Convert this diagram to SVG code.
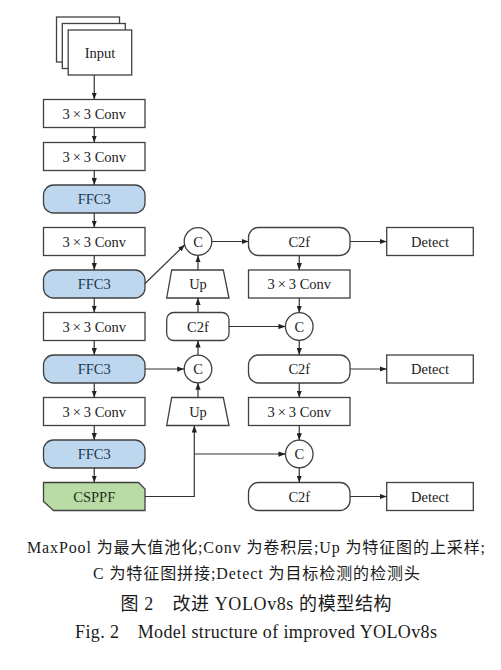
<svg xmlns="http://www.w3.org/2000/svg" width="501" height="670" viewBox="0 0 501 670">
<style>
.b{fill:#fff;stroke:#404040;stroke-width:1.3}
.ffc{fill:#bdd7ee;stroke:#404040;stroke-width:1.3}
.sp{fill:#b9dba5;stroke:#404040;stroke-width:1.3}
.t{font-family:"Liberation Serif","Times New Roman",serif;font-size:14.5px;fill:#222;text-anchor:middle}
.tf{fill:#1f3550}
.ts{fill:#1c2e1c}
.c{fill:none;stroke:#333;stroke-width:1.2}
.cap{font-family:"Liberation Serif","Noto Sans CJK SC",serif;fill:#1a1a1a;text-anchor:middle}
</style>
<defs>
<marker id="a" viewBox="0 0 8 6" refX="8" refY="3" markerWidth="7" markerHeight="5.5" orient="auto" markerUnits="userSpaceOnUse">
<path d="M0,0 L8,3 L0,6 Z" fill="#222"/>
</marker>
</defs>
<rect width="501" height="670" fill="#fff"/>

<g id="input">
<rect class="b" x="56.5" y="17" width="63" height="45"/>
<rect class="b" x="62.3" y="23.5" width="63" height="45"/>
<rect class="b" x="68.2" y="30" width="63.5" height="45"/>
<text class="t" x="100" y="58">Input</text>
</g>

<g id="conv1"><rect class="b" x="43.5" y="99.5" width="101.5" height="28"/>
<text class="t" x="94.25" y="118.5">3<tspan dx="3">×</tspan><tspan dx="3">3 Conv</tspan></text></g>
<g id="conv2"><rect class="b" x="43.5" y="142.5" width="101.5" height="28"/>
<text class="t" x="94.25" y="161.5">3<tspan dx="3">×</tspan><tspan dx="3">3 Conv</tspan></text></g>
<g id="ffc3_1"><rect class="ffc" x="43.5" y="185" width="101.5" height="28" rx="10"/>
<text class="t tf" x="94.25" y="204">FFC3</text></g>
<g id="conv3"><rect class="b" x="43.5" y="227.5" width="101.5" height="28"/>
<text class="t" x="94.25" y="246.5">3<tspan dx="3">×</tspan><tspan dx="3">3 Conv</tspan></text></g>
<g id="ffc3_2"><rect class="ffc" x="43.5" y="270" width="101.5" height="28" rx="10"/>
<text class="t tf" x="94.25" y="289">FFC3</text></g>
<g id="conv4"><rect class="b" x="43.5" y="312.5" width="101.5" height="28"/>
<text class="t" x="94.25" y="331.5">3<tspan dx="3">×</tspan><tspan dx="3">3 Conv</tspan></text></g>
<g id="ffc3_3"><rect class="ffc" x="43.5" y="355" width="101.5" height="28" rx="10"/>
<text class="t tf" x="94.25" y="374">FFC3</text></g>
<g id="conv5"><rect class="b" x="43.5" y="397.5" width="101.5" height="28"/>
<text class="t" x="94.25" y="416.5">3<tspan dx="3">×</tspan><tspan dx="3">3 Conv</tspan></text></g>
<g id="ffc3_4"><rect class="ffc" x="43.5" y="440" width="101.5" height="28" rx="10"/>
<text class="t tf" x="94.25" y="459">FFC3</text></g>
<g id="csppf"><path class="sp" d="M43.5,482.5 H138.5 L145,489 V510.5 H53.5 L43.5,501.5 Z"/>
<text class="t ts" x="94.25" y="501.5">CSPPF</text></g>

<g id="cat1"><circle class="b" cx="198" cy="241.5" r="13.8"/><text class="t" x="198" y="246.5">C</text></g>
<g id="up1"><path class="b" d="M171.7,270 H223.3 L229,298 H166.7 Z"/><text class="t" x="198" y="289">Up</text></g>
<g id="c2f_l"><rect class="b" x="166.7" y="312.5" width="62.3" height="28" rx="7"/><text class="t" x="197.85" y="331.5">C2f</text></g>
<g id="cat3"><circle class="b" cx="198" cy="369" r="13.8"/><text class="t" x="198" y="374">C</text></g>
<g id="up2"><path class="b" d="M171.7,397.5 H223.3 L229,425.5 H166.7 Z"/><text class="t" x="198" y="416.5">Up</text></g>

<g id="c2f_r1"><rect class="b" x="248.5" y="227.5" width="101.5" height="28" rx="10"/><text class="t" x="299.25" y="246.5">C2f</text></g>
<g id="conv_r1"><rect class="b" x="248.5" y="270" width="101.5" height="28"/>
<text class="t" x="299.25" y="289">3<tspan dx="3">×</tspan><tspan dx="3">3 Conv</tspan></text></g>
<g id="cat2"><circle class="b" cx="299.25" cy="326.5" r="13.8"/><text class="t" x="299.25" y="331.5">C</text></g>
<g id="c2f_r2"><rect class="b" x="248.5" y="355" width="101.5" height="28" rx="10"/><text class="t" x="299.25" y="374">C2f</text></g>
<g id="conv_r2"><rect class="b" x="248.5" y="397.5" width="101.5" height="28"/>
<text class="t" x="299.25" y="416.5">3<tspan dx="3">×</tspan><tspan dx="3">3 Conv</tspan></text></g>
<g id="cat4"><circle class="b" cx="299.25" cy="454" r="13.8"/><text class="t" x="299.25" y="459">C</text></g>
<g id="c2f_r3"><rect class="b" x="248.5" y="482.5" width="101.5" height="28" rx="10"/><text class="t" x="299.25" y="501.5">C2f</text></g>

<g id="detect1"><rect class="b" x="386.7" y="227.5" width="86.6" height="28"/><text class="t" x="430" y="246.5">Detect</text></g>
<g id="detect2"><rect class="b" x="386.7" y="355" width="86.6" height="28"/><text class="t" x="430" y="374">Detect</text></g>
<g id="detect3"><rect class="b" x="386.7" y="482.5" width="86.6" height="28"/><text class="t" x="430" y="501.5">Detect</text></g>

<g id="connectors" class="c" marker-end="url(#a)">
<path d="M94.25,75 V99.5"/>
<path d="M94.25,127.5 V142.5"/>
<path d="M94.25,170.5 V185"/>
<path d="M94.25,213 V227.5"/>
<path d="M94.25,255.5 V270"/>
<path d="M94.25,298 V312.5"/>
<path d="M94.25,340.5 V355"/>
<path d="M94.25,383 V397.5"/>
<path d="M94.25,425.5 V440"/>
<path d="M94.25,468 V482.5"/>
<path d="M145,283.5 L184.8,244.8"/>
<path d="M211.8,241.5 H248.5"/>
<path d="M198,270 V255.3"/>
<path d="M198,312.5 V298"/>
<path d="M229,326.5 H285.45"/>
<path d="M299.25,255.5 V270"/>
<path d="M350,241.5 H386.7"/>
<path d="M299.25,298 V312.7"/>
<path d="M299.25,340.3 V355"/>
<path d="M145,369 H184.2"/>
<path d="M198,355.2 V340.5"/>
<path d="M198,397.5 V382.8"/>
<path d="M350,369 H386.7"/>
<path d="M299.25,383 V397.5"/>
<path d="M299.25,425.5 V440.2"/>
<path d="M299.25,467.8 V482.5"/>
<path d="M350,496.5 H386.7"/>
<path d="M145,496.5 H194.3 V425.5"/>
<path d="M194.3,454 H285.45"/>
</g>

<g id="caption">
<text class="cap" x="256" y="553" font-size="16" textLength="458" lengthAdjust="spacing">MaxPool 为最大值池化;Conv 为卷积层;Up 为特征图的上采样;</text>
<text class="cap" x="256.4" y="579" font-size="16" textLength="327" lengthAdjust="spacing">C 为特征图拼接;Detect 为目标检测的检测头</text>
<text class="cap" x="256" y="610" font-size="18" textLength="271" lengthAdjust="spacing">图 2　改进 YOLOv8s 的模型结构</text>
<text class="cap" x="256" y="638" font-size="18" textLength="362" lengthAdjust="spacing">Fig. 2　Model structure of improved YOLOv8s</text>
</g>
</svg>
